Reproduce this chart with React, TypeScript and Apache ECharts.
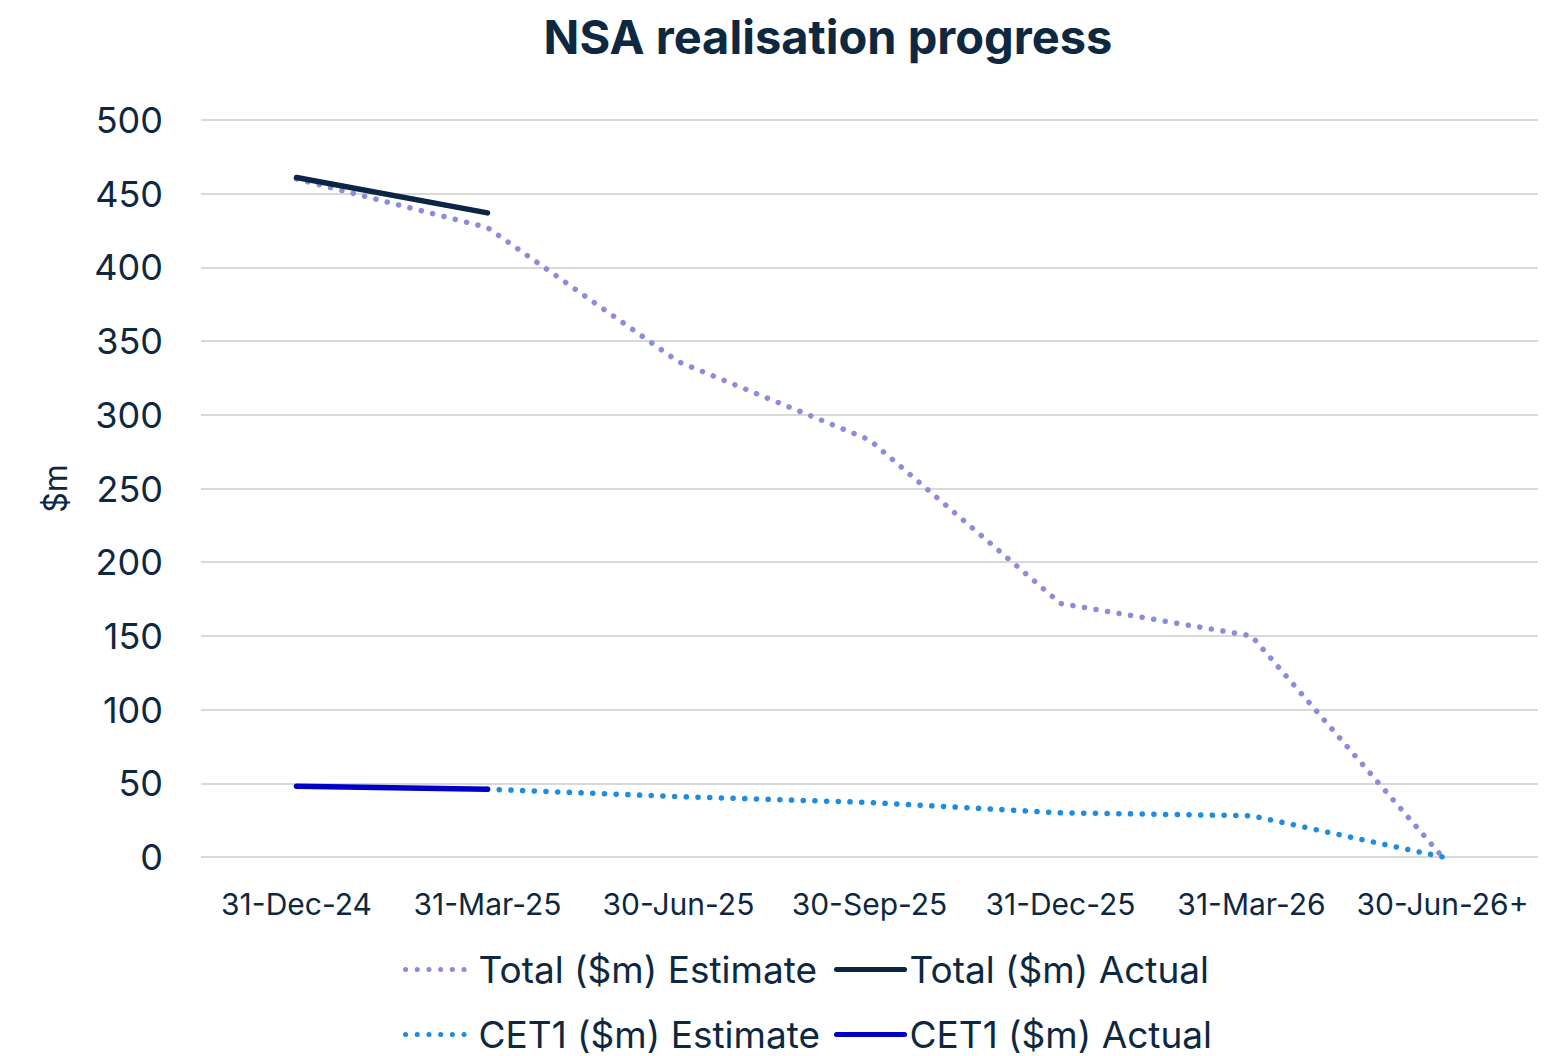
import React, { useEffect, useRef } from "react";
import * as echarts from "echarts";

const categories = ["31-Dec-24", "31-Mar-25", "30-Jun-25", "30-Sep-25", "31-Dec-25", "31-Mar-26", "30-Jun-26+"];
const totalEstimate = [460, 427, 336, 283, 172, 150, 0];
const totalActual = [461, 437, null, null, null, null, null];
const cet1Estimate = [null, 46, 41, 37, 30, 28, 0];
const cet1Actual = [48, 46, null, null, null, null, null];
const yTicks = { min: 0, max: 500, interval: 50 };

const NAVY = "#0E2841";
const FONT = "Inter, 'Noto Sans', sans-serif";

export default function App() {
  const ref = useRef<HTMLDivElement>(null);
  useEffect(() => {
    document.body.style.margin = "0";
    if (!ref.current) return;
    const chart = echarts.init(ref.current, null, { renderer: "svg" });
    const DOT = [0.1, 11.6] as any;
    const dotted = (color: string) => ({
      color,
      width: 5.5,
      type: DOT,
      cap: "round" as const,
    });
    const legendBase = {
      itemWidth: 68,
      itemHeight: 6,
      itemStyle: { opacity: 0 },
      lineStyle: { width: 5, cap: "round" },
      textStyle: { fontSize: 37, color: NAVY, fontFamily: FONT },
      padding: 0,
    };
    chart.setOption({
      animation: false,
      textStyle: { fontFamily: FONT },
      title: {
        text: "NSA realisation progress",
        left: 823,
        textAlign: "center",
        top: 8,
        textStyle: { fontSize: 47, fontWeight: "bold", color: NAVY, fontFamily: FONT },
      },
      grid: { left: 201, right: 29, top: 120, bottom: 199, containLabel: false },
      legend: [
        { ...legendBase, data: ["Total ($m) Estimate"], left: 403, top: 951 },
        { ...legendBase, data: ["Total ($m) Actual"], left: 834, top: 951 },
        { ...legendBase, data: ["CET1 ($m) Estimate"], left: 403, top: 1016 },
        { ...legendBase, data: ["CET1 ($m) Actual"], left: 834, top: 1016 },
      ],
      xAxis: {
        type: "category",
        data: categories,
        boundaryGap: true,
        axisLine: { show: false },
        axisTick: { show: false },
        axisLabel: { interval: 0, fontSize: 30, color: NAVY, margin: 32, fontFamily: FONT },
      },
      yAxis: {
        type: "value",
        min: yTicks.min,
        max: yTicks.max,
        interval: yTicks.interval,
        name: "$m",
        nameLocation: "middle",
        nameGap: 130,
        nameTextStyle: { fontSize: 32, color: NAVY, fontFamily: FONT },
        axisLine: { show: false },
        axisTick: { show: false },
        axisLabel: { fontSize: 36, color: NAVY, margin: 38, fontFamily: FONT },
        splitLine: { lineStyle: { color: "#D9D9D9", width: 2 } },
      },
      series: [
        {
          name: "Total ($m) Estimate",
          type: "line",
          data: totalEstimate,
          symbol: "none",
          color: "#8C8CDC",
          lineStyle: dotted("#8C8CDC"),
          z: 2,
        },
        {
          name: "Total ($m) Actual",
          type: "line",
          data: totalActual,
          symbol: "none",
          color: "#0B2545",
          lineStyle: { color: "#0B2545", width: 5.5, cap: "round" },
          z: 3,
        },
        {
          name: "CET1 ($m) Estimate",
          type: "line",
          data: cet1Estimate,
          symbol: "none",
          color: "#1E8CE0",
          lineStyle: dotted("#1E8CE0"),
          z: 2,
        },
        {
          name: "CET1 ($m) Actual",
          type: "line",
          data: cet1Actual,
          symbol: "none",
          color: "#0000C8",
          lineStyle: { color: "#0000C8", width: 5.5, cap: "round" },
          z: 3,
        },
      ],
    });
    return () => chart.dispose();
  }, []);
  return <div ref={ref} style={{ width: 1567, height: 1056 }} />;
}
